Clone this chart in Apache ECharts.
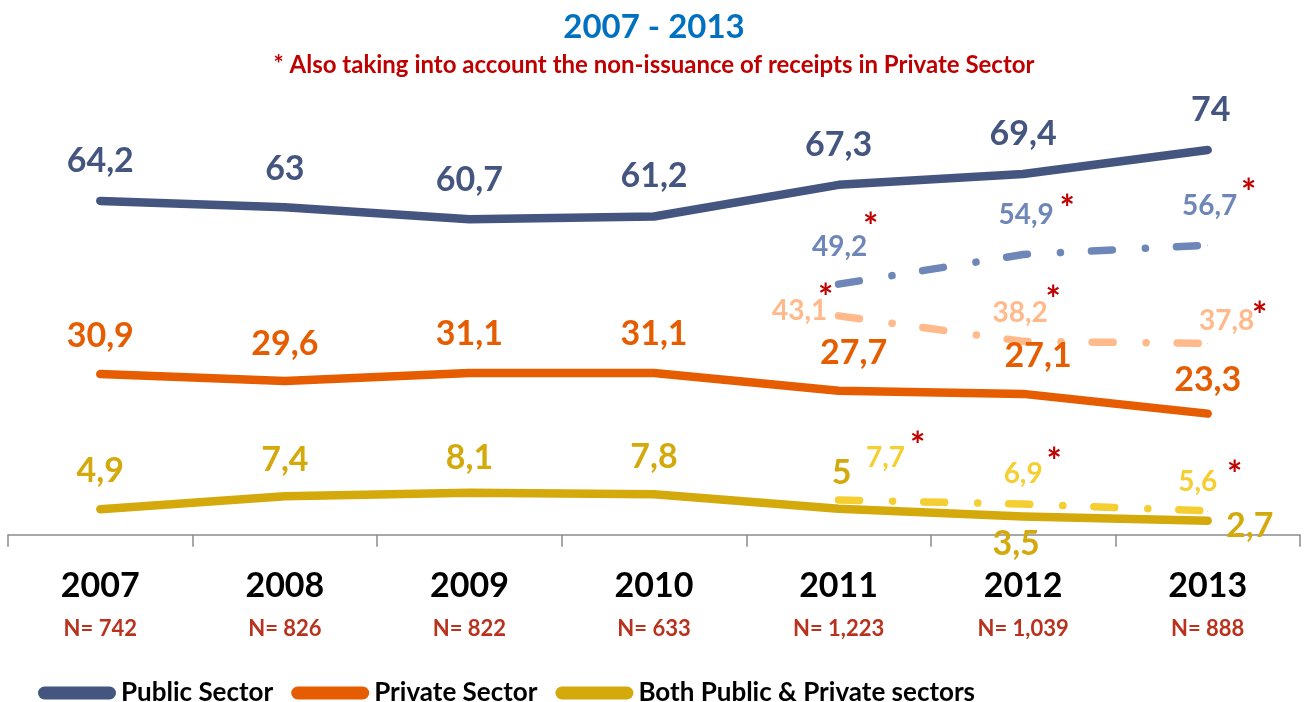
<!DOCTYPE html>
<html>
<head>
<meta charset="utf-8">
<script src="https://cdn.jsdelivr.net/npm/echarts@6/dist/echarts.min.js"></script>
<style>
html,body{margin:0;padding:0;background:#fff;}
#chart{width:1308px;height:702px;}
</style>
</head>
<body>
<div id="chart"></div>
<script>
// ---- data ----
const years = ['2007', '2008', '2009', '2010', '2011', '2012', '2013'];
const sampleN = ['742', '826', '822', '633', '1,223', '1,039', '888'];
const publicSector = [64.2, 63, 60.7, 61.2, 67.3, 69.4, 74];
const privateSector = [30.9, 29.6, 31.1, 31.1, 27.7, 27.1, 23.3];
const bothSectors = [4.9, 7.4, 8.1, 7.8, 5, 3.5, 2.7];
const publicAdjusted = [null, null, null, null, 49.2, 54.9, 56.7];
const privateAdjusted = [null, null, null, null, 43.1, 38.2, 37.8];
const bothAdjusted = [null, null, null, null, 7.7, 6.9, 5.6];
const seriesNames = ['Public Sector', 'Private Sector', 'Both Public & Private sectors'];
const titleText = '2007 - 2013';
const subtitleText = '* Also taking into account the non-issuance of receipts in Private Sector';

// ---- styling ----
const FONT = 'Lato, "Open Sans", sans-serif';
const C = {
  pub: '#44557F', pri: '#E65C00', both: '#D4A90C',
  pubA: '#6E87B8', priA: '#FFB98A', bothA: '#F5CE32',
  star: '#C00000', n: '#B8321E', title: '#0070C0'
};
const offPub = [[0,-40],[0,-38],[0,-39],[0,-41],[0,-40],[0,-40],[3,-40]];
const offPri = [[0,-38],[0,-37],[0,-39],[0,-39],[15,-38],[15,-38],[0,-34]];
const offBoth = [[0,-38],[0,-36],[0,-35],[0,-37],[3,-36],[-7,27],[42,5]];
const offPubA = [null,null,null,null,[1,-37],[3,-40],[2,-39]];
const offPriA = [null,null,null,null,[-39,-5],[-3,-28],[19,-22]];
const offBothA = [null,null,null,null,[47,-42],[0,-30],[-10,-29]];
const starPubA = [null,null,null,null,[32,-57],[44,-45],[41,-52]];
const starPriA = [null,null,null,null,[-13,-17],[30,-41],[52,-27]];
const starBothA = [null,null,null,null,[79,-54],[31,-42],[27,-35]];

const fmt = v => String(v).replace('.', ',');

function withLabels(values, offsets) {
  return values.map((v, i) => v == null ? '-' : ({ value: v, label: { offset: offsets[i] } }));
}

function solidSeries(name, values, color, offsets) {
  return {
    name, type: 'line', yAxisIndex: 0,
    data: withLabels(values, offsets),
    symbol: 'circle', symbolSize: 1, showSymbol: true,
    itemStyle: { color },
    lineStyle: { color, width: 8.5, cap: 'round', join: 'round' },
    label: {
      show: true, position: 'inside', formatter: p => fmt(p.value),
      color, fontFamily: FONT, fontWeight: 'bold', fontSize: 34
    },
    emphasis: { disabled: true }, z: 3
  };
}

function dashedSeries(name, values, color, offsets) {
  return {
    name, type: 'line', yAxisIndex: 1,
    data: withLabels(values, offsets),
    symbol: 'circle', symbolSize: 1, showSymbol: true,
    itemStyle: { color },
    lineStyle: { color, width: 7.5, type: [21, 33, 0.1, 31], cap: 'round', join: 'round' },
    label: {
      show: true, position: 'inside', formatter: p => fmt(p.value),
      color, fontFamily: FONT, fontWeight: 'bold', fontSize: 28
    },
    emphasis: { disabled: true }, z: 2
  };
}

function starSeries(name, values, offsets) {
  return {
    name, type: 'line', yAxisIndex: 1,
    data: withLabels(values, offsets),
    symbol: 'circle', symbolSize: 1, showSymbol: true,
    itemStyle: { color: 'rgba(0,0,0,0)' },
    lineStyle: { width: 0, opacity: 0 },
    label: {
      show: true, position: 'inside', formatter: '*',
      color: C.star, fontFamily: FONT, fontWeight: 'bold', fontSize: 36
    },
    emphasis: { disabled: true }, z: 4
  };
}

const chart = echarts.init(document.getElementById('chart'), null, { renderer: 'canvas' });
chart.setOption({
  backgroundColor: '#fff',
  animation: false,
  title: [
    { text: titleText, left: 'center', top: 3,
      textStyle: { color: C.title, fontFamily: FONT, fontWeight: 'bold', fontSize: 33, lineHeight: 38 } },
    { text: subtitleText, left: 'center', top: 46,
      textStyle: { color: C.star, fontFamily: FONT, fontWeight: 'bold', fontSize: 24, lineHeight: 28 } }
  ],
  legend: {
    data: seriesNames,
    left: 33, top: 675,
    icon: 'path://M6.5,0 H71.5 A6.5,6.5 0 0 1 71.5,13 H6.5 A6.5,6.5 0 0 1 6.5,0 Z',
    itemWidth: 78, itemHeight: 13, itemGap: 18,
    textStyle: { color: '#000', fontFamily: FONT, fontWeight: 'bold', fontSize: 26 },
    selectedMode: false
  },
  grid: { left: 8, right: 8, top: 98, bottom: 162, containLabel: false },
  xAxis: {
    type: 'category', data: years, boundaryGap: true,
    axisLine: { show: true, lineStyle: { color: '#8C8C8C', width: 1.5 } },
    axisTick: { show: true, length: 12, lineStyle: { color: '#8C8C8C', width: 1.5 } },
    axisLabel: {
      margin: 24, interval: 0,
      formatter: (v, i) => '{y|' + v + '}\n{n|N= ' + sampleN[i] + '}',
      rich: {
        y: { fontFamily: FONT, fontWeight: 'bold', fontSize: 34, color: '#000', lineHeight: 44 },
        n: { fontFamily: FONT, fontWeight: 'bold', fontSize: 22, color: C.n, lineHeight: 42 }
      }
    }
  },
  yAxis: [
    { type: 'value', min: -1, max: 84, show: false, splitLine: { show: false } },
    { type: 'value', min: 0, max: 85, show: false, splitLine: { show: false } }
  ],
  series: [
    dashedSeries('Public Sector *', publicAdjusted, C.pubA, offPubA),
    dashedSeries('Private Sector *', privateAdjusted, C.priA, offPriA),
    dashedSeries('Both *', bothAdjusted, C.bothA, offBothA),
    solidSeries(seriesNames[0], publicSector, C.pub, offPub),
    solidSeries(seriesNames[1], privateSector, C.pri, offPri),
    solidSeries(seriesNames[2], bothSectors, C.both, offBoth),
    starSeries('star1', publicAdjusted, starPubA),
    starSeries('star2', privateAdjusted, starPriA),
    starSeries('star3', bothAdjusted, starBothA)
  ]
});
</script>
</body>
</html>
